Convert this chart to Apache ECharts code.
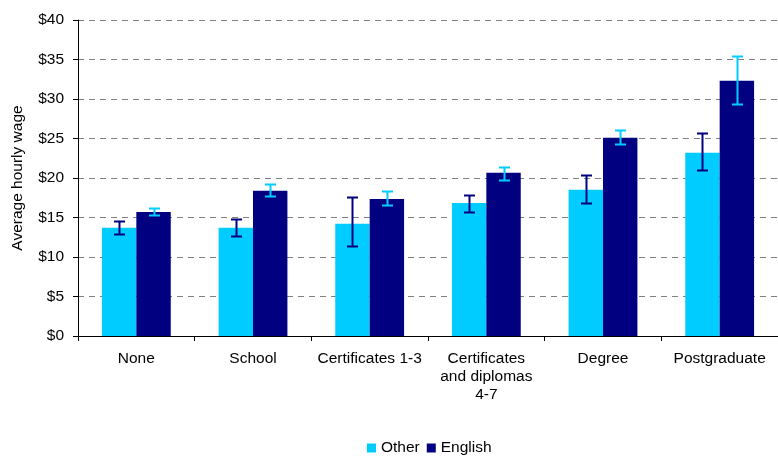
<!DOCTYPE html>
<html>
<head>
<meta charset="utf-8">
<script src="https://cdn.jsdelivr.net/npm/echarts@6/dist/echarts.min.js"></script>
<style>html,body{margin:0;padding:0;background:#fff}#c{width:778px;height:456px}</style>
</head>
<body>
<div id="c"></div>
<script>
var categories = ['None', 'School', 'Certificates 1-3', 'Certificates\nand diplomas\n4-7', 'Degree', 'Postgraduate'];
var otherValues = [13.7, 13.7, 14.2, 16.85, 18.5, 23.2];
var otherLow = [12.9, 12.6, 11.4, 15.7, 16.8, 21.0];
var otherHigh = [14.6, 14.8, 17.6, 17.8, 20.4, 25.7];
var englishValues = [15.7, 18.4, 17.35, 20.65, 25.1, 32.3];
var englishLow = [15.35, 17.7, 16.6, 19.8, 24.3, 29.4];
var englishHigh = [16.15, 19.2, 18.4, 21.4, 26.1, 35.5];
var yTicks = [0, 5, 10, 15, 20, 25, 30, 35, 40];
var yTitle = 'Average hourly wage';

var OTHER = '#00CCFF', ENGLISH = '#000080';
var GAPFRAC = 0.41;
var ARIAL = 'Liberation Sans, Arial, sans-serif';
var FS = 15.5;

function errorSeries(low, high, color, side) {
  var data = low.map(function (l, i) { return [i, l, high[i]]; });
  return {
    type: 'custom',
    z: 10,
    silent: true,
    data: data,
    encode: { x: 0, y: [1, 2] },
    renderItem: function (params, api) {
      var idx = api.value(0);
      var band = api.size([1, 0])[0];
      var bw = band * (1 - GAPFRAC) / 2;
      var c = api.coord([idx, 0]);
      var x = Math.round(c[0] + side * bw / 2) + 0.5;
      var yl = Math.round(api.coord([idx, api.value(1)])[1]) + 0.5;
      var yh = Math.round(api.coord([idx, api.value(2)])[1]) + 0.5;
      var cap = 5.5;
      var st = { stroke: color, lineWidth: 2 };
      return {
        type: 'group',
        children: [
          { type: 'line', shape: { x1: x, y1: yl, x2: x, y2: yh }, style: st },
          { type: 'line', shape: { x1: x - cap, y1: yl, x2: x + cap, y2: yl }, style: st },
          { type: 'line', shape: { x1: x - cap, y1: yh, x2: x + cap, y2: yh }, style: st }
        ]
      };
    }
  };
}

var chart = echarts.init(document.getElementById('c'), null, { renderer: 'canvas' });
chart.setOption({
  animation: false,
  textStyle: { fontFamily: ARIAL },
  grid: { left: 78, right: -6, top: 20, bottom: 120, containLabel: false },
  graphic: [{
    type: 'text',
    x: 18,
    y: 178,
    rotation: Math.PI / 2,
    style: { text: yTitle, fontSize: FS, fontFamily: ARIAL, fill: '#000', align: 'center', verticalAlign: 'middle' }
  }],
  legend: {
    top: 440,
    left: 367,
    padding: 0,
    itemWidth: 9,
    itemHeight: 9,
    itemGap: 7,
    icon: 'rect',
    textStyle: { fontSize: FS, color: '#000', fontFamily: ARIAL },
    data: ['Other', 'English']
  },
  xAxis: {
    type: 'category',
    data: categories,
    axisLine: { lineStyle: { color: '#000', width: 1 } },
    axisTick: { show: true, length: 5, lineStyle: { color: '#000' } },
    axisLabel: { color: '#000', fontSize: FS, fontFamily: ARIAL, margin: 14, lineHeight: 18, interval: 0 },
    splitLine: { show: false }
  },
  yAxis: {
    type: 'value',
    min: yTicks[0],
    max: yTicks[yTicks.length - 1],
    interval: 5,
    axisLine: { show: true, lineStyle: { color: '#000', width: 1 } },
    axisTick: { show: true, length: 5, lineStyle: { color: '#000' } },
    axisLabel: { color: '#000', fontSize: FS, fontFamily: ARIAL, margin: 14, formatter: function (v) { return '$' + v; } },
    splitLine: { show: true, lineStyle: { color: '#808080', type: [6, 5], width: 1 } }
  },
  series: [
    { name: 'Other', type: 'bar', data: otherValues, itemStyle: { color: OTHER }, barGap: '0%', barCategoryGap: (GAPFRAC * 100) + '%' },
    { name: 'English', type: 'bar', data: englishValues, itemStyle: { color: ENGLISH }, barGap: '0%', barCategoryGap: (GAPFRAC * 100) + '%' },
    errorSeries(otherLow, otherHigh, ENGLISH, -1),
    errorSeries(englishLow, englishHigh, OTHER, 1)
  ]
});
</script>
</body>
</html>
